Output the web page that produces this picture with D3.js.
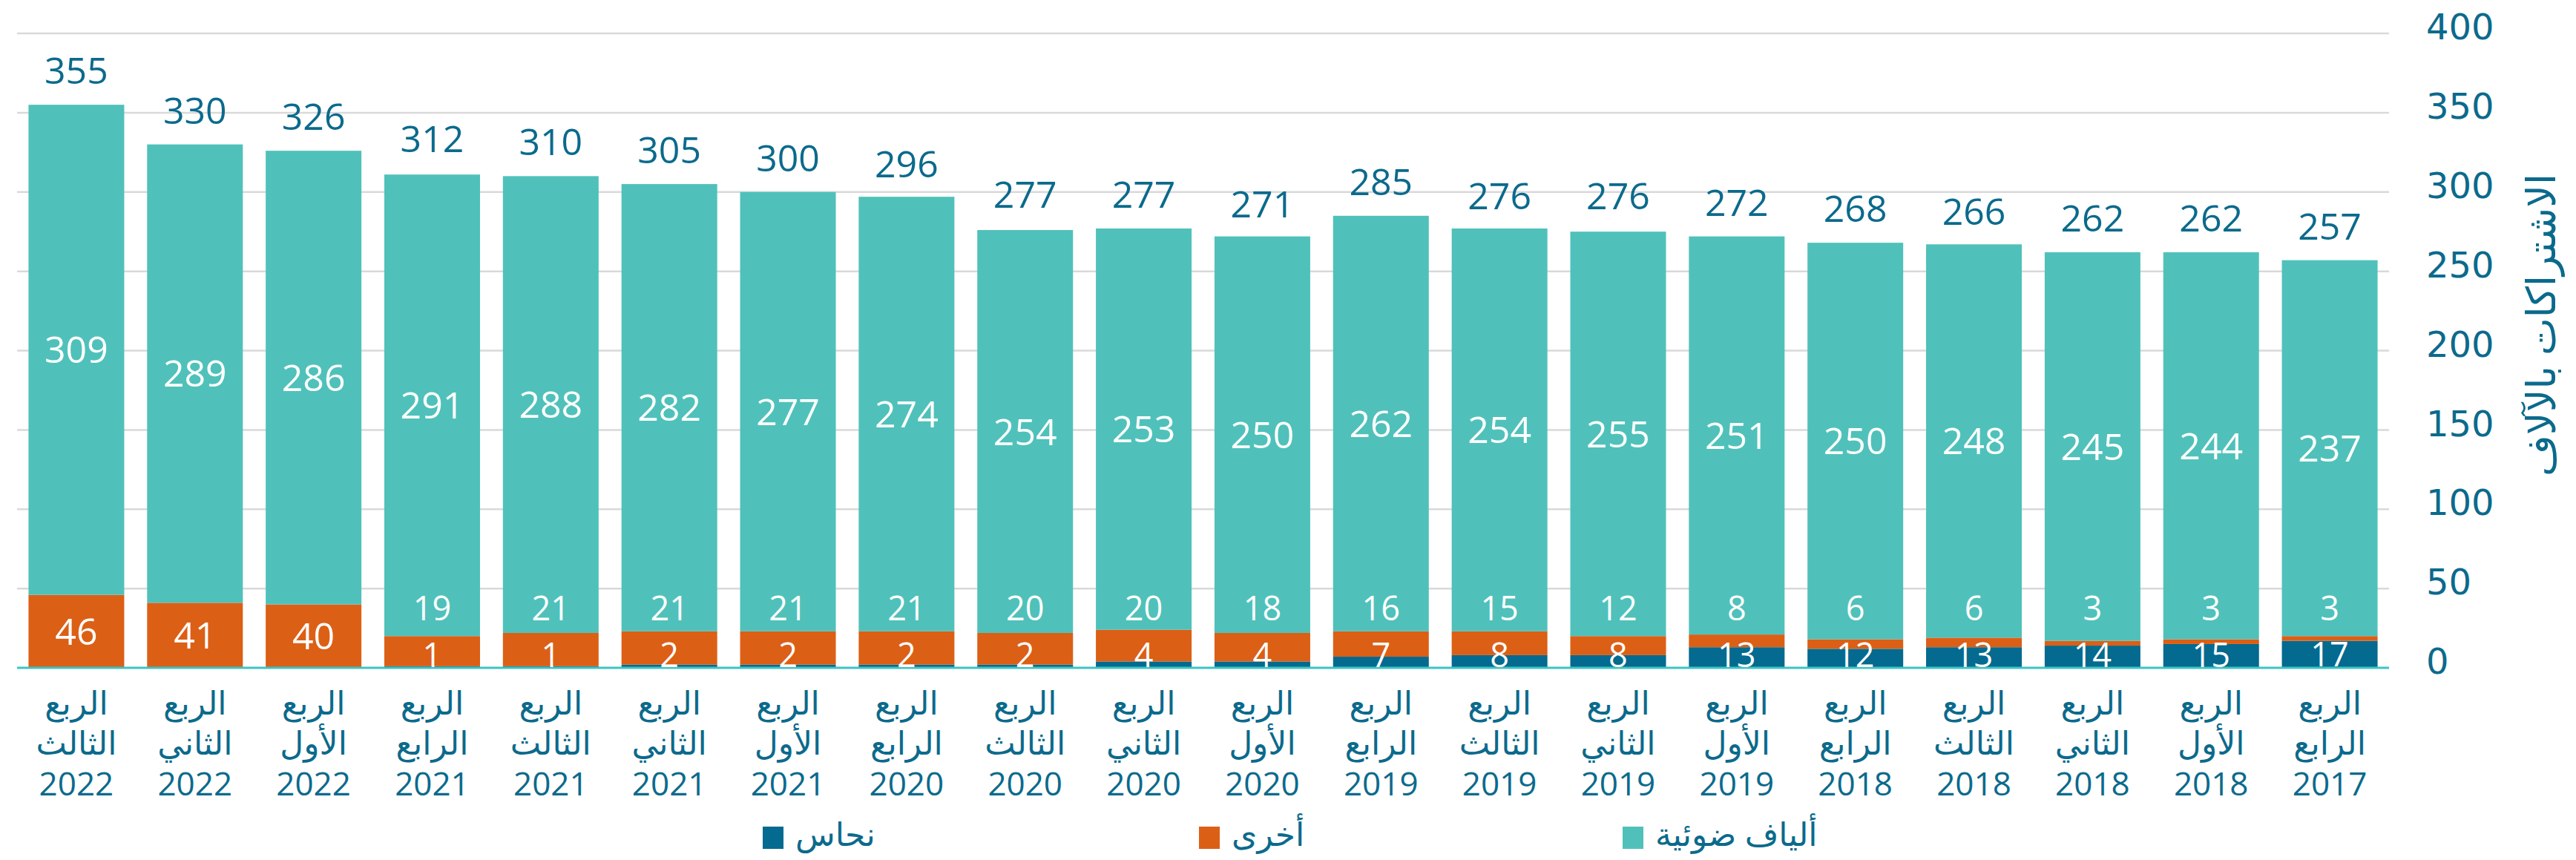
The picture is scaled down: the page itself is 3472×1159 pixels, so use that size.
<!DOCTYPE html>
<html>
<head>
<meta charset="utf-8">
<script src="https://cdn.jsdelivr.net/npm/d3@7"></script>
<style>
  html, body { margin: 0; padding: 0; background: #ffffff; }
  svg { display: block; }
</style>
</head>
<body>
<svg id="chart" width="3472" height="1159"></svg>
<script>
// ---------- DATA (left to right as displayed) ----------
const quarterWord = "الربع";
const quarters = ["الثالث","الثاني","الأول","الرابع","الثالث","الثاني","الأول","الرابع","الثالث","الثاني",
                  "الأول","الرابع","الثالث","الثاني","الأول","الرابع","الثالث","الثاني","الأول","الرابع"];
const years = ["2022","2022","2022","2021","2021","2021","2021","2020","2020","2020",
               "2020","2019","2019","2019","2019","2018","2018","2018","2018","2017"];
const fiber  = [309,289,286,291,288,282,277,274,254,253,250,262,254,255,251,250,248,245,244,237];
const other  = [46,41,40,19,21,21,21,21,20,20,18,16,15,12,8,6,6,3,3,3];
const copper = [0,0,0,1,1,2,2,2,2,4,4,7,8,8,13,12,13,14,15,17];
const totals = [355,330,326,312,310,305,300,296,277,277,271,285,276,276,272,268,266,262,262,257];
const yTicks = [0,50,100,150,200,250,300,350,400];
const seriesKeys   = ["copper","other","fiber"];
const seriesNames  = ["نحاس","أخرى","ألياف ضوئية"];
const seriesColors = ["#046A8F","#DC5F16","#4FC1BA"];
const yTitle = "الاشتراكات بالآلاف";

// ---------- SETUP ----------
const TEXT = "#0B6A8C";
const FONT = "'Open Sans', 'DejaVu Sans', sans-serif";
const svg = d3.select("#chart");

const rows = quarters.map((q, i) => ({
  i, quarter: q, year: years[i],
  copper: copper[i], other: other[i], fiber: fiber[i], total: totals[i]
}));

const x = d3.scaleBand()
  .domain(rows.map(d => d.i))
  .range([23, 3220])
  .paddingInner(0.193)
  .paddingOuter(0.0965);

const y = d3.scaleLinear().domain([0, 400]).range([900, 45]);

const color = d3.scaleOrdinal().domain(seriesKeys).range(seriesColors);

// ---------- GRIDLINES ----------
svg.append("g")
  .selectAll("line")
  .data(yTicks.filter(t => t > 0))
  .join("line")
  .attr("x1", 23).attr("x2", 3220)
  .attr("y1", d => y(d)).attr("y2", d => y(d))
  .attr("stroke", "#D9D9D9")
  .attr("stroke-width", 2.5);

// ---------- RIGHT AXIS ----------
const yAxis = d3.axisRight(y).tickValues(yTicks).tickSize(0).tickPadding(0).tickFormat(d3.format("d"));
const axG = svg.append("g").attr("transform", "translate(3270,0)").call(yAxis);
axG.select(".domain").remove();
axG.selectAll("text")
  .attr("fill", TEXT)
  .attr("font-family", "'DejaVu Sans', sans-serif")
  .attr("font-size", 48)
  .attr("dy", "0.16em")
  .attr("text-anchor", "start");

// ---------- STACKED BARS ----------
const stacked = d3.stack().keys(seriesKeys)(rows);

svg.append("g")
  .selectAll("g")
  .data(stacked)
  .join("g")
  .attr("fill", d => color(d.key))
  .selectAll("rect")
  .data(d => d)
  .join("rect")
  .attr("x", d => x(d.data.i))
  .attr("width", x.bandwidth())
  .attr("y", d => y(d[1]))
  .attr("height", d => Math.max(0, y(d[0]) - y(d[1])));

// baseline
svg.append("line")
  .attr("x1", 23).attr("x2", 3220)
  .attr("y1", y(0)).attr("y2", y(0))
  .attr("stroke", "#3CC4C4")
  .attr("stroke-width", 3);

// ---------- DATA LABELS ----------
const lab = svg.append("g")
  .attr("font-family", FONT)
  .attr("font-size", 50)
  .attr("text-anchor", "middle");

const cx = d => x(d.i) + x.bandwidth() / 2;

// fiber labels: centre of the fiber segment
lab.selectAll(".lf")
  .data(rows)
  .join("text")
  .attr("class", "lf")
  .attr("x", cx)
  .attr("y", d => y(d.copper + d.other + d.fiber / 2))
  .attr("dy", "0.36em")
  .attr("fill", "#ffffff")
  .text(d => d.fiber);

// other labels
lab.selectAll(".lo")
  .data(rows)
  .join("text")
  .attr("class", "lo")
  .attr("x", cx)
  .attr("y", d => d.other >= 30 ? y(d.copper + d.other / 2) : y(0) - 80)
  .attr("dy", "0.36em")
  .attr("font-size", d => d.other >= 30 ? 50 : 45)
  .attr("fill", "#ffffff")
  .text(d => d.other);

// copper labels
lab.selectAll(".lc")
  .data(rows.filter(d => d.copper > 0))
  .join("text")
  .attr("class", "lc")
  .attr("x", cx)
  .attr("y", d => Math.min(y(d.copper / 2), y(0) - 17))
  .attr("dy", "0.36em")
  .attr("font-size", 45)
  .attr("fill", "#ffffff")
  .text(d => d.copper);

// totals
lab.selectAll(".lt")
  .data(rows)
  .join("text")
  .attr("class", "lt")
  .attr("x", cx)
  .attr("y", d => y(d.total) - 28)
  .attr("fill", TEXT)
  .text(d => d.total);

// ---------- CATEGORY LABELS ----------
const cat = svg.append("g")
  .attr("font-family", FONT)
  .attr("font-size", 44)
  .attr("fill", TEXT)
  .attr("text-anchor", "middle");

const catText = cat.selectAll("text")
  .data(rows)
  .join("text")
  .attr("x", cx)
  .attr("y", 963);
catText.append("tspan").attr("x", cx).attr("y", 963).text(quarterWord);
catText.append("tspan").attr("x", cx).attr("y", 1017).text(d => d.quarter);
catText.append("tspan").attr("x", cx).attr("y", 1072).text(d => d.year);

// ---------- AXIS TITLE ----------
svg.append("text")
  .attr("transform", "translate(3444,438) rotate(-90)")
  .attr("text-anchor", "middle")
  .attr("font-family", FONT)
  .attr("font-size", 54)
  .attr("fill", TEXT)
  .text(yTitle);

// ---------- LEGEND ----------
const legendX = [1028, 1616, 2187];
const leg = svg.append("g").attr("font-family", FONT).attr("font-size", 44).attr("fill", TEXT);
const items = leg.selectAll("g")
  .data(seriesKeys.map((k, i) => ({ k, name: seriesNames[i], x: legendX[i] })))
  .join("g")
  .attr("transform", d => `translate(${d.x},1114)`);
items.append("rect")
  .attr("width", 28).attr("height", 30)
  .attr("fill", d => color(d.k));
items.append("text")
  .attr("x", 44).attr("y", 26)
  .attr("text-anchor", "start")
  .text(d => d.name);
</script>
</body>
</html>
